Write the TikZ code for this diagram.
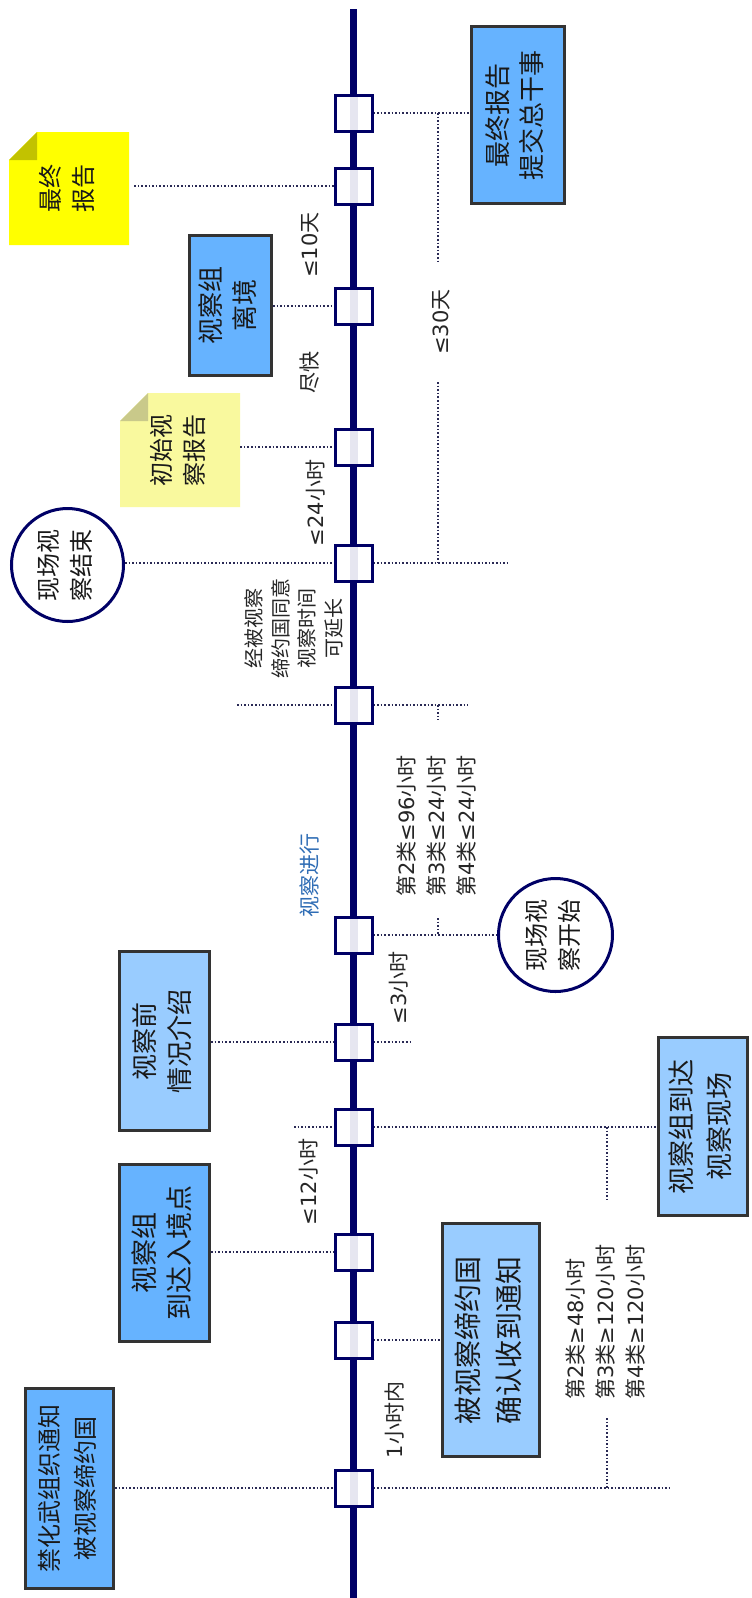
\documentclass[tikz,border=0pt]{standalone}
\usepackage{fontspec}
\setmainfont{Noto Sans CJK SC}
\newfontfamily\latf{DejaVu Sans}
\usepackage{graphicx}
\usetikzlibrary{shapes.geometric,calc}
\definecolor{navy}{HTML}{000066}
\definecolor{boxblue}{HTML}{66B3FF}
\definecolor{boxlight}{HTML}{99CCFF}
\definecolor{boxedge}{HTML}{333333}
\definecolor{noteyel}{HTML}{FFFF00}
\definecolor{noteyelfold}{HTML}{C2C200}
\definecolor{notepale}{HTML}{F9F99E}
\definecolor{notepalefold}{HTML}{C9C98A}
\definecolor{dotcol}{HTML}{2A2A55}
\definecolor{stripecol}{HTML}{E6E6F0}
\definecolor{proc}{HTML}{2F6DB5}
\newcommand{\RTc}[1]{\rotatebox{90}{\begin{tabular}{@{}c@{}}#1\end{tabular}}}
\newcommand{\RTl}[1]{\rotatebox{90}{\begin{tabular}{@{}l@{}}#1\end{tabular}}}
\newcommand{\LT}[1]{{\latf #1}}
\begin{document}
\begin{tikzpicture}[x=1pt,y=-1pt,
  axisline/.style={draw=navy,line width=7pt},
  marker/.style={rectangle,draw=navy,line width=3pt,fill=white,minimum width=37pt,minimum height=36pt,inner sep=0pt,
     path picture={\fill[stripecol] ([xshift=-4pt]path picture bounding box.south) rectangle ([xshift=4pt]path picture bounding box.north);}},
  box/.style={rectangle,draw=boxedge,line width=3pt,inner sep=0pt,text=black!90,font=\fontsize{26}{34}\selectfont},
  circ/.style={ellipse,draw=navy,line width=3pt,fill=white,inner sep=0pt,text=black!90,font=\fontsize{24}{33}\selectfont},
  note/.style={rectangle,inner sep=0pt,fill=white,minimum width=120pt,minimum height=113pt,text=black!90,font=\fontsize{24}{33}\selectfont,
     path picture={
       \fill[#1] ($(path picture bounding box.north west)+(0pt,-28pt)$) -- ($(path picture bounding box.north west)+(28pt,0pt)$)
          -- (path picture bounding box.north east) -- (path picture bounding box.south east) -- (path picture bounding box.south west) -- cycle;
       \fill[#1fold] ($(path picture bounding box.north west)+(0pt,-28pt)$) -- ($(path picture bounding box.north west)+(28pt,0pt)$)
          -- ($(path picture bounding box.north west)+(28pt,-28pt)$) -- cycle;}},
  lbl/.style={inner sep=0pt,text=black!85,font=\fontsize{21}{30}\selectfont},
  conn/.style={draw=dotcol,line width=1.6pt,dotted}
]
\fill[white] (0,0) rectangle (752,1598);
\useasboundingbox (0,0) rectangle (752,1598);
\coordinate (axtop) at (353.5,9);
\coordinate (axbot) at (353.5,1600);
\draw[axisline] (axtop) -- (axbot);
\foreach \i/\yy in {1/113,2/186,3/306,4/447,5/563,6/705,7/935,8/1042,9/1127,10/1252,11/1340,12/1488}
  \node[marker] (s\i) at (353.5,\yy) {};

% boxes
\node[box,fill=boxblue,minimum width=93pt,minimum height=177pt] (bA) at (518,115) {\RTc{最终报告\\提交总干事}};
\node[note=noteyel] (nB) at (69,188.5) {\RTc{最终\\报告}};
\node[box,fill=boxblue,minimum width=82pt,minimum height=140pt,font=\fontsize{26}{34}\selectfont] (bC) at (230.5,305.5) {\RTc{视察组\\离境}};
\node[note=notepale,minimum height=114pt] (nD) at (180,450) {\RTc{初始视\\察报告}};
\node[circ,minimum width=112pt,minimum height=113pt] (eE) at (67.5,565) {\RTc{现场视\\察结束}};
\node[circ,minimum width=114pt,minimum height=113pt] (eF) at (555.5,935) {\RTc{现场视\\察开始}};
\node[box,fill=boxlight,minimum width=90pt,minimum height=179pt,font=\fontsize{26}{35}\selectfont] (bG) at (164.5,1041) {\RTc{视察前\\情况介绍}};
\node[box,fill=boxlight,minimum width=89pt,minimum height=178pt,font=\fontsize{27}{38}\selectfont] (bH) at (703,1126.5) {\RTc{视察组到达\\视察现场}};
\node[box,fill=boxblue,minimum width=90pt,minimum height=177pt,font=\fontsize{27}{35}\selectfont] (bI) at (164.5,1253) {\RTc{视察组\\到达入境点}};
\node[box,fill=boxlight,minimum width=97pt,minimum height=233pt,font=\fontsize{28}{41}\selectfont] (bJ) at (491,1340) {\RTc{被视察缔约国\\确认收到通知}};
\node[box,fill=boxblue,minimum width=88pt,minimum height=200pt,font=\fontsize{24}{36}\selectfont] (bK) at (69.5,1488.5) {\RTc{禁化武组织通知\\被视察缔约国}};

% labels
\node[lbl] (t10) at (310,245) {\rotatebox{90}{\LT{≤10}天}};
\node[lbl] (tjk) at (310,372) {\rotatebox{90}{尽快}};
\node[lbl] (t30) at (441,322) {\rotatebox{90}{\LT{≤30}天}};
\node[lbl] (t24) at (316,503) {\rotatebox{90}{\LT{≤24}小时}};
\node[lbl,font=\fontsize{20}{26.5}\selectfont] (text) at (296,628) {\RTc{经被视察\\缔约国同意\\视察时间\\可延长}};
\node[lbl,text=proc] (tjx) at (310,875) {\rotatebox{90}{视察进行}};
\node[lbl,anchor=south] (t96) at (438,897) {\RTl{第\LT{2}类\LT{≤96}小时\\第\LT{3}类\LT{≤24}小时\\第\LT{4}类\LT{≤24}小时}};
\node[lbl] (t3) at (399,988) {\rotatebox{90}{\LT{≤3}小时}};
\node[lbl] (t12) at (309,1182) {\rotatebox{90}{\LT{≤12}小时}};
\node[lbl] (t1) at (395,1420) {\rotatebox{90}{\LT{1}小时内}};
\node[lbl,anchor=south] (t48) at (607,1400) {\RTl{第\LT{2}类\LT{≥48}小时\\第\LT{3}类\LT{≥120}小时\\第\LT{4}类\LT{≥120}小时}};

% free ends
\coordinate (r5) at (508,563);
\coordinate (l6) at (237,705);
\coordinate (r6) at (468,705);
\coordinate (r8) at (412,1042);
\coordinate (l9) at (294,1127);
\coordinate (r12) at (671,1488);
\coordinate (v30a) at (438,262);
\coordinate (v30b) at (438,382);
\coordinate (v96a) at (438,720);
\coordinate (v96b) at (438,918);
\coordinate (v48a) at (607,1200);
\coordinate (v48b) at (607,1418);

% connectors
\draw[conn] (s1.east) -- (s1.east -| bA.west);
\draw[conn,shorten <=5pt] (nB.east |- s2.west) -- (s2.west);
\draw[conn] (bC.east |- s3.west) -- (s3.west);
\draw[conn] (nD.east |- s4.west) -- (s4.west);
\draw[conn] (eE.east |- s5.west) -- (s5.west);
\draw[conn] (s5.east) -- (r5);
\draw[conn] (l6) -- (s6.west);
\draw[conn] (s6.east) -- (r6);
\draw[conn] (s7.east) -- (s7.east -| eF.west);
\draw[conn] (bG.east |- s8.west) -- (s8.west);
\draw[conn] (s8.east) -- (r8);
\draw[conn] (l9) -- (s9.west);
\draw[conn] (s9.east) -- (s9.east -| bH.west);
\draw[conn] (bI.east |- s10.west) -- (s10.west);
\draw[conn] (s11.east) -- (s11.east -| bJ.west);
\draw[conn] (bK.east |- s12.west) -- (s12.west);
\draw[conn] (s12.east) -- (r12);
\draw[conn] (s1.east -| v30a) -- (v30a);
\draw[conn] (v30b) -- (s5.east -| v30b);
\draw[conn] (s6.east -| v96a) -- (v96a);
\draw[conn] (v96b) -- (s7.east -| v96b);
\draw[conn] (s9.east -| v48a) -- (v48a);
\draw[conn] (v48b) -- (s12.east -| v48b);
\end{tikzpicture}
\end{document}
